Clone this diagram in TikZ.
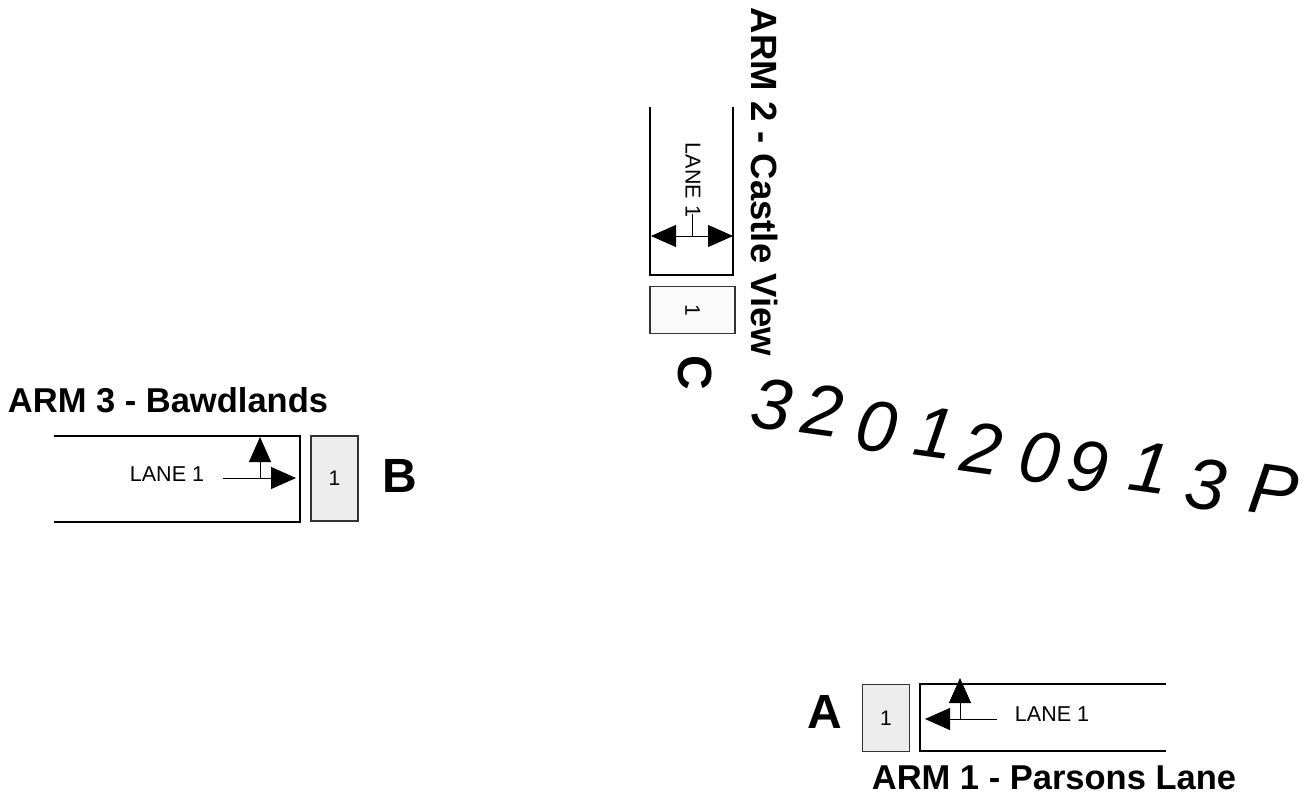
\documentclass[tikz,border=0pt]{standalone}
\usepackage{fontspec}
\setmainfont{Liberation Sans}
\usetikzlibrary{arrows.meta}
\begin{document}
\begin{tikzpicture}[
    x=1pt, y=-1pt,
    armline/.style={line width=2.2pt, line cap=butt, line join=miter},
    lanearrow/.style={line width=1pt, -{Triangle[length=25pt, width=22pt]}},
    lanestem/.style={line width=1pt},
    signalbox/.style={draw=black!80, line width=1.2pt, fill=black!7, inner sep=0, minimum width=47, minimum height=85, font=\fontsize{21}{21}\selectfont},
    armlabel/.style={inner sep=0, font=\bfseries\fontsize{34.5}{34.5}\selectfont},
    letterlabel/.style={inner sep=0, font=\bfseries\fontsize{48}{48}\selectfont},
    lanelabel/.style={inner sep=0, font=\fontsize{21.5}{21.5}\selectfont},
    stamp/.style={inner sep=0, rotate=-8, font=\itshape\fontsize{72}{72}\selectfont}
  ]
  \useasboundingbox (0,0) rectangle (1306,796);
  % arm 3
  \node[armlabel] (arm3) at (168,400) {ARM 3 - Bawdlands};
  \coordinate (b1) at (54,436);
  \coordinate (b2) at (300,436);
  \coordinate (b3) at (300,522);
  \coordinate (b4) at (54,522);
  \draw[armline] (b1) -- (b2) -- (b3) -- (b4);
  \node[signalbox] (boxb) at (334.5,478.5) {1};
  \node[letterlabel] (letterb) at (400,476) {B};
  \node[lanelabel] (laneb) at (167,474) {LANE 1};
  \coordinate (bfrom) at (223,478);
  \coordinate (bjoin) at (260,478);
  \coordinate (bright) at (296,478);
  \coordinate (bup) at (260,437);
  \draw[lanearrow] (bfrom) -- (bright);
  \draw[lanearrow] (bjoin) -- (bup);
  % arm 1
  \node[armlabel] (arm1) at (1054,778) {ARM 1 - Parsons Lane};
  \coordinate (a1) at (1166,684);
  \coordinate (a2) at (920,684);
  \coordinate (a3) at (920,751);
  \coordinate (a4) at (1166,751);
  \draw[armline] (a1) -- (a2) -- (a3) -- (a4);
  \node[signalbox, minimum height=67] (boxa) at (886,718) {1};
  \node[letterlabel] (lettera) at (825,712) {A};
  \node[lanelabel] (lanea) at (1052,714) {LANE 1};
  \coordinate (afrom) at (997,719);
  \coordinate (ajoin) at (960,719);
  \coordinate (aleft) at (925,719);
  \coordinate (aup) at (960,678);
  \draw[lanearrow] (afrom) -- (aleft);
  \draw[lanearrow] (ajoin) -- (aup);
  % arm 2
  \node[armlabel, rotate=-90, font=\bfseries\fontsize{36.5}{36.5}\selectfont] (arm2) at (765,182) {ARM 2 - Castle View};
  \coordinate (c1) at (650,107);
  \coordinate (c2) at (650,275);
  \coordinate (c3) at (733,275);
  \coordinate (c4) at (733,107);
  \draw[armline] (c1) -- (c2) -- (c3) -- (c4);
  \node[signalbox, rotate=-90, fill=black!2] (boxc) at (692.5,310) {1};
  \node[letterlabel, rotate=-90] (letterc) at (695,373) {C};
  \node[lanelabel, rotate=-90] (lanec) at (693,180) {LANE 1};
  \coordinate (cjoin) at (692,236);
  \coordinate (cleft) at (651,236);
  \coordinate (cright) at (733,236);
  \coordinate (cup) at (692,214);
  \draw[lanearrow] (cjoin) -- (cleft);
  \draw[lanearrow] (cjoin) -- (cright);
  \draw[lanestem] (cjoin) -- (cup);
  % written across the sheet
  \foreach \x/\y/\ch [count=\i] in {772/405/3, 823/410/2, 877/427/0, 935/433/1, 982/448/2,
      1040/458/0, 1088/467/9, 1150/468/1, 1206/485/3, 1274/490/P} {
    \node[stamp] (stamp\i) at (\x,\y) {\ch};
  }
\end{tikzpicture}
\end{document}
